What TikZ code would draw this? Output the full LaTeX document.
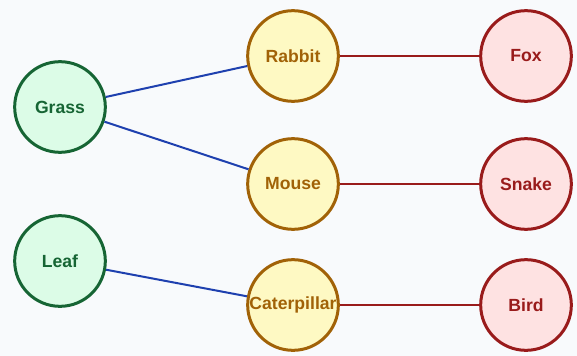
\documentclass[tikz,border=0pt]{standalone}
\usepackage{fontspec}
\setmainfont{Liberation Sans}

\definecolor{plantline}{HTML}{166534}
\definecolor{plantfill}{HTML}{DCFCE7}
\definecolor{preyline}{HTML}{A16207}
\definecolor{preyfill}{HTML}{FEF9C3}
\definecolor{huntline}{HTML}{991B1B}
\definecolor{huntfill}{HTML}{FEE2E2}
\definecolor{eatblue}{HTML}{1E40AF}
\definecolor{paper}{HTML}{F8FAFC}

\tikzset{every picture/.style={line width=0.75pt}}
\tikzset{
  animal/.style={circle,line width=2.25pt,minimum size=68pt,inner sep=0pt,font=\bfseries\fontsize{13.2}{15}\selectfont},
  plant/.style={animal,draw=plantline,fill=plantfill,text=plantline},
  prey/.style={animal,draw=preyline,fill=preyfill,text=preyline},
  hunter/.style={animal,draw=huntline,fill=huntfill,text=huntline},
  eats/.style={draw=eatblue,line width=1.5pt},
  hunts/.style={draw=huntline,line width=1.5pt}
}

\begin{document}
\begin{tikzpicture}[x=0.75pt,y=0.75pt,yscale=-1,xscale=1]
%background
\fill[paper] (0,0) rectangle (577,356);
\useasboundingbox (0,0) rectangle (577,356);

% Plants
\node [plant] (grass) at (60,107) {Grass};
\node [plant] (leaf) at (60,261) {Leaf};
% Prey
\node [prey] (rabbit) at (293,56) {Rabbit};
\node [prey] (mouse) at (293,184) {Mouse};
\node [prey] (caterpillar) at (293,305) {Caterpillar};
% Hunters
\node [hunter] (fox) at (526,56) {Fox};
\node [hunter] (snake) at (526,184) {Snake};
\node [hunter] (bird) at (526,305) {Bird};

% Links
\draw [eats] (grass) -- (rabbit) ;
\draw [eats] (grass) -- (mouse) ;
\draw [eats] (leaf) -- (caterpillar) ;
\draw [hunts] (rabbit) -- (fox) ;
\draw [hunts] (mouse) -- (snake) ;
\draw [hunts] (caterpillar) -- (bird) ;

\end{tikzpicture}
\end{document}
